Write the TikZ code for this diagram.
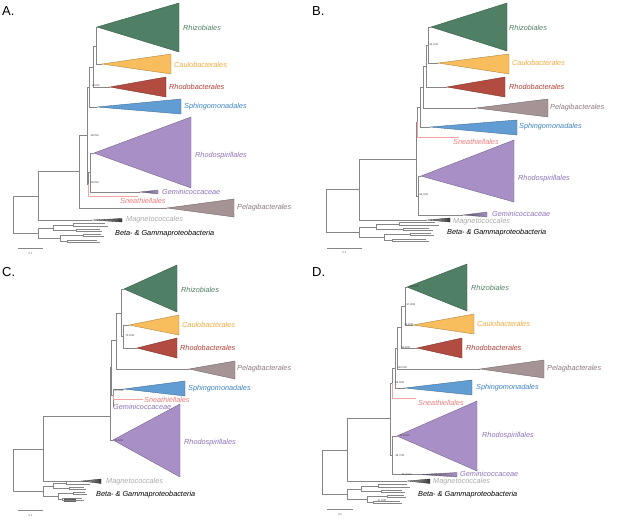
\documentclass[tikz,border=0pt]{standalone}
\usepackage{fontspec}
\setmainfont{Liberation Sans}
\usetikzlibrary{positioning}

\definecolor{brgray}{HTML}{868686}
\definecolor{rhifill}{HTML}{4F7F64}
\definecolor{caufill}{HTML}{F8BE5E}
\definecolor{cautext}{HTML}{F2A93B}
\definecolor{rbafill}{HTML}{B24B40}
\definecolor{rbatext}{HTML}{B23B30}
\definecolor{sphfill}{HTML}{619DD2}
\definecolor{sphtext}{HTML}{3C82C4}
\definecolor{rspfill}{HTML}{A890C6}
\definecolor{rsptext}{HTML}{8C70B8}
\definecolor{pelfill}{HTML}{A69396}
\definecolor{peltext}{HTML}{8E777C}
\definecolor{snepink}{HTML}{F4A3A3}
\definecolor{snetext}{HTML}{EE7A7A}
\definecolor{magtext}{HTML}{A9A9A9}
\definecolor{magfill}{HTML}{3C3C3C}

% collapsed clade: apex, right x, top y, bottom y, colour
\newcommand{\clade}[5]{\filldraw[fill=#5, draw=#5!70!black, line width=0.4pt] (#1) -- (#2,#3) -- (#2,#4) -- cycle;}
% thin clade with a shaded fill: apex, right x, top y, bottom y, left colour, right colour
\newcommand{\thinclade}[6]{\shade[left color=#5, right color=#6] (#1) -- (#2,#3) -- (#2,#4) -- cycle;
  \draw[#6!60!black, line width=0.3pt] (#1) -- (#2,#3) -- (#2,#4) -- cycle;}

% outgroup subtree: name, x, y, length
\newcommand{\bgtree}[4]{%
  \coordinate (#1) at (#2,#3);
  \begin{scope}[shift={(#1)}, xscale=#4]
    \coordinate (#1u) at (0.22,-5);
    \coordinate (#1l) at (0.32,5);
    \coordinate (#1u1) at (0.5,-8);
    \coordinate (#1u2) at (0.55,-3);
    \coordinate (#1l1) at (0.64,2);
    \coordinate (#1l2) at (0.42,8);
    \coordinate (#1a) at (0.95,-10);
    \coordinate (#1b) at (1,-7);
    \coordinate (#1c) at (0.88,-4);
    \coordinate (#1d) at (0.92,-2);
    \coordinate (#1e) at (0.9,1);
    \coordinate (#1f) at (0.94,3);
    \coordinate (#1g) at (0.84,7);
    \coordinate (#1h) at (0.88,9.5);
  \end{scope}
  \draw[br] (#1) |- (#1u) (#1) |- (#1l) (#1u) |- (#1u1) (#1u) |- (#1u2) (#1l) |- (#1l1) (#1l) |- (#1l2);
  \draw[br] (#1u1) |- (#1a) (#1u1) |- (#1b) (#1u2) |- (#1c) (#1u2) |- (#1d)
    (#1l1) |- (#1e) (#1l1) |- (#1f) (#1l2) |- (#1g) (#1l2) |- (#1h);
}

\begin{document}
\begin{tikzpicture}[x=1pt, y=-1pt,
    br/.style={draw=brgray, line width=0.55pt},
    sn/.style={draw=snepink, line width=0.6pt},
    lbl/.style={anchor=west, inner sep=0pt, font=\fontsize{7.3}{8}\selectfont\itshape},
    bs/.style={anchor=west, inner sep=0.3pt, font=\fontsize{2.6}{3}\selectfont, text=black!75},
    panel/.style={anchor=west, inner sep=0pt, font=\fontsize{13}{13}\selectfont}]
    \useasboundingbox (0,0) rectangle (617,524);

    % ---------------- A ----------------
    \node[panel] (pA) at (2,11) {A.};
    \coordinate (a0) at (13,214);
    \coordinate (a1) at (38,196);
    \coordinate (a2) at (79,171);
    \coordinate (a3) at (87,135);
    \coordinate (a4) at (89,87);
    \coordinate (a5) at (93,67);
    \coordinate (a6) at (96,46);
    \coordinate (a7) at (88,184);
    \coordinate (a8) at (90,172);
    \coordinate (aRhi) at (97,27);
    \coordinate (aCau) at (102,64);
    \coordinate (aRba) at (110,87);
    \coordinate (aSph) at (97,107);
    \coordinate (aRsp) at (94,153);
    \coordinate (aGem) at (140,192);
    \coordinate (aSne) at (138,196);
    \coordinate (aPel) at (167,208);
    \coordinate (aMag) at (92,220);
    \bgtree{aBG}{38}{233}{70}
    \draw[br] (a0) |- (a1) (a0) |- (aBG) (a1) |- (aMag) (a1) |- (a2);
    \draw[br] (a2) |- (aPel) (a2) |- (a3) (a3) |- (a4) (a3) |- (a7);
    \draw[br] (a4) |- (a5) (a4) |- (aSph) (a5) |- (a6) (a5) |- (aRba);
    \draw[br] (a6) |- (aRhi) (a6) |- (aCau) (a7) |- (a8) (a8) |- (aRsp) (a8) |- (aGem);
    \draw[sn] (a7) |- (aSne);
    \clade{aRhi}{179}{3}{52}{rhifill}
    \clade{aCau}{171}{54}{74}{caufill}
    \clade{aRba}{166}{77}{97}{rbafill}
    \clade{aSph}{181}{99}{114}{sphfill}
    \clade{aRsp}{191}{117}{188}{rspfill}
    \clade{aPel}{234}{199}{217}{pelfill}
    \thinclade{aGem}{158}{190}{194}{black!70}{rspfill}
    \thinclade{aMag}{122}{218.5}{222}{brgray!60}{magfill}
    \node[lbl, text=rhifill] (aRhiL) at (183,28) {Rhizobiales};
    \node[lbl, text=cautext] (aCauL) at (174,65) {Caulobacterales};
    \node[lbl, text=rbatext] (aRbaL) at (169,87) {Rhodobacterales};
    \node[lbl, text=sphtext] (aSphL) at (184,107) {Sphingomonadales};
    \node[lbl, text=rsptext] (aRspL) at (195,156) {Rhodospirillales};
    \node[lbl, text=rsptext] (aGemL) at (162,192) {Geminicoccaceae};
    \node[lbl, text=snetext] (aSneL) at (120,201) {Sneathiellales};
    \node[lbl, text=peltext] (aPelL) at (237,208) {Pelagibacterales};
    \node[lbl, text=magtext] (aMagL) at (126,220) {Magnetococcales};
    \node[lbl] (aBGL) at (115,234) {Beta- \& Gammaproteobacteria};
    \node[bs] (aS1) at (91,86) {100/93};
    \node[bs] (aS2) at (90,136) {100/99};
    \node[bs] (aS3) at (90,183) {100/99};
    \draw[br] (18,248) -- (43,248);
    \node[bs, anchor=center] (aSc) at (30.5,254) {0.1};

    % ---------------- B ----------------
    \node[panel] (pB) at (312,11) {B.};
    \coordinate (b0) at (326,210);
    \coordinate (b1) at (359,189);
    \coordinate (b2) at (416,159);
    \coordinate (b3) at (417,122);
    \coordinate (b4) at (420,107);
    \coordinate (b5) at (423,87);
    \coordinate (b6) at (426,66);
    \coordinate (b7) at (428,45);
    \coordinate (b9) at (418,196);
    \coordinate (bRhi) at (431,27);
    \coordinate (bCau) at (438,63);
    \coordinate (bRba) at (447,87);
    \coordinate (bPel) at (476,108);
    \coordinate (bSph) at (430,127);
    \coordinate (bSne) at (459,137);
    \coordinate (bRsp) at (421,176);
    \coordinate (bGem) at (463,215);
    \coordinate (bMag) at (427,220);
    \bgtree{bBG}{359}{232}{80}
    \draw[br] (b0) |- (b1) (b0) |- (bBG) (b1) |- (b2) (b1) |- (bMag);
    \draw[br] (b2) |- (b3) (b2) |- (b9) (b3) |- (b4) (b4) |- (b5) (b4) |- (bSph);
    \draw[br] (b5) |- (b6) (b5) |- (bPel) (b6) |- (b7) (b6) |- (bRba);
    \draw[br] (b7) |- (bRhi) (b7) |- (bCau) (b9) |- (bRsp) (b9) |- (bGem);
    \draw[sn] (b3) |- (bSne);
    \clade{bRhi}{507}{3}{51}{rhifill}
    \clade{bCau}{509}{54}{74}{caufill}
    \clade{bRba}{505}{77}{97}{rbafill}
    \clade{bPel}{548}{99}{117}{pelfill}
    \clade{bSph}{517}{120}{135}{sphfill}
    \clade{bRsp}{514}{140}{202}{rspfill}
    \thinclade{bGem}{487}{212}{217}{black!70}{rspfill}
    \thinclade{bMag}{450}{218}{222}{brgray!60}{magfill}
    \node[lbl, text=rhifill] (bRhiL) at (509,28) {Rhizobiales};
    \node[lbl, text=cautext] (bCauL) at (512,63) {Caulobacterales};
    \node[lbl, text=rbatext] (bRbaL) at (509,87) {Rhodobacterales};
    \node[lbl, text=peltext] (bPelL) at (550,108) {Pelagibacterales};
    \node[lbl, text=sphtext] (bSphL) at (519,127) {Sphingomonadales};
    \node[lbl, text=snetext] (bSneL) at (453,142) {Sneathiellales};
    \node[lbl, text=rsptext] (bRspL) at (518,179) {Rhodospirillales};
    \node[lbl, text=rsptext] (bGemL) at (492,214) {Geminicoccaceae};
    \node[lbl, text=magtext] (bMagL) at (453,221.5) {Magnetococcales};
    \node[lbl] (bBGL) at (447,233) {Beta- \& Gammaproteobacteria};
    \node[bs] (bS1) at (429,45) {93.2/94};
    \node[bs] (bS2) at (419,195) {96.4/92};
    \draw[br] (327,248) -- (362,248);
    \node[bs, anchor=center] (bSc) at (344.5,253) {0.2};

    % ---------------- C ----------------
    \node[panel] (pC) at (2,272) {C.};
    \coordinate (c0) at (13,470);
    \coordinate (c1) at (43,449);
    \coordinate (c2) at (110,416);
    \coordinate (c3) at (111,367);
    \coordinate (c4) at (116,340);
    \coordinate (c5) at (121,313);
    \coordinate (c6) at (123,336);
    \coordinate (c7) at (113,395);
    \coordinate (cRhi) at (124,289);
    \coordinate (cCau) at (129,325);
    \coordinate (cRba) at (137,348);
    \coordinate (cPel) at (189,369);
    \coordinate (cSph) at (124,389);
    \coordinate (cSne) at (143,399);
    \coordinate (cGem) at (114,406);
    \coordinate (cRsp) at (113,440);
    \coordinate (cMag) at (82,481);
    \bgtree{cBG}{43}{491}{47}
    \draw[br] (c0) |- (c1) (c0) |- (cBG) (c1) |- (c2) (c1) |- (cMag);
    \draw[br] (c2) |- (c3) (c2) |- (cRsp) (c3) |- (c4) (c3) |- (c7);
    \draw[br] (c4) |- (c5) (c4) |- (cPel) (c5) |- (cRhi) (c5) |- (c6);
    \draw[br] (c6) |- (cCau) (c6) |- (cRba) (c7) |- (cSph) (c7) |- (cGem);
    \draw[sn] (c7) |- (cSne);
    \clade{cRhi}{177}{265}{312}{rhifill}
    \clade{cCau}{179}{315}{335}{caufill}
    \clade{cRba}{177}{338}{358}{rbafill}
    \clade{cPel}{235}{361}{379}{pelfill}
    \clade{cSph}{185}{381}{396}{sphfill}
    \clade{cRsp}{180}{404}{477}{rspfill}
    \thinclade{cMag}{101}{479}{483.5}{brgray!60}{magfill}
    \node[lbl, text=rhifill] (cRhiL) at (181,290) {Rhizobiales};
    \node[lbl, text=cautext] (cCauL) at (182,325) {Caulobacterales};
    \node[lbl, text=rbatext] (cRbaL) at (180,348) {Rhodobacterales};
    \node[lbl, text=peltext] (cPelL) at (237,369) {Pelagibacterales};
    \node[lbl, text=sphtext] (cSphL) at (188,389) {Sphingomonadales};
    \node[lbl, text=snetext] (cSneL) at (144,400) {Sneathiellales};
    \node[lbl, text=rsptext] (cGemL) at (113,407) {Geminicoccaceae};
    \node[lbl, text=rsptext] (cRspL) at (184,443) {Rhodospirillales};
    \node[lbl, text=magtext] (cMagL) at (106,482) {Magnetococcales};
    \node[lbl] (cBGL) at (96,495) {Beta- \& Gammaproteobacteria};
    \node[bs] (cS1) at (125,336) {70.2/99};
    \node[bs] (cS2) at (114,391) {91.2/99};
    \node[bs] (cS3) at (114,441) {79.5/99};
    \node[bs, draw=black!60, line width=0.2pt] (cS4) at (64,500) {98.7/100};
    \draw[br] (18,510) -- (43,510);
    \node[bs, anchor=center] (cSc) at (30.5,516) {0.1};

    % ---------------- D ----------------
    \node[panel] (pD) at (312,272) {D.};
    \coordinate (d0) at (322,472);
    \coordinate (d1) at (347,450);
    \coordinate (d2) at (390,418);
    \coordinate (d3) at (392,383);
    \coordinate (d4) at (395,368);
    \coordinate (d5) at (397,348);
    \coordinate (d6) at (401,327);
    \coordinate (d7) at (405,306);
    \coordinate (d9) at (392,455);
    \coordinate (dRhi) at (407,287);
    \coordinate (dCau) at (413,325);
    \coordinate (dRba) at (417,348);
    \coordinate (dPel) at (480,369);
    \coordinate (dSph) at (405,388);
    \coordinate (dSne) at (416,398);
    \coordinate (dRsp) at (397,436);
    \coordinate (dGem) at (420,474.5);
    \coordinate (dMag) at (407,481);
    \bgtree{dBG}{347}{494}{63}
    \draw[br] (d0) |- (d1) (d0) |- (dBG) (d1) |- (d2) (d1) |- (dMag);
    \draw[br] (d2) |- (d3) (d2) |- (d9) (d3) |- (d4) (d4) |- (d5) (d4) |- (dSph);
    \draw[br] (d5) |- (d6) (d5) |- (dPel) (d6) |- (d7) (d6) |- (dRba);
    \draw[br] (d7) |- (dRhi) (d7) |- (dCau) (d9) |- (dRsp) (d9) |- (dGem);
    \draw[sn] (d3) |- (dSne);
    \clade{dRhi}{467}{264}{311}{rhifill}
    \clade{dCau}{474}{314}{334}{caufill}
    \clade{dRba}{462}{338}{358}{rbafill}
    \clade{dPel}{544}{360}{378}{pelfill}
    \clade{dSph}{472}{380}{395}{sphfill}
    \clade{dRsp}{477}{401}{471}{rspfill}
    \thinclade{dGem}{457}{472.5}{477}{black!70}{rspfill}
    \thinclade{dMag}{430}{479}{483.5}{brgray!60}{magfill}
    \node[lbl, text=rhifill] (dRhiL) at (471,288) {Rhizobiales};
    \node[lbl, text=cautext] (dCauL) at (477,324) {Caulobacterales};
    \node[lbl, text=rbatext] (dRbaL) at (466,348) {Rhodobacterales};
    \node[lbl, text=peltext] (dPelL) at (547,369) {Pelagibacterales};
    \node[lbl, text=sphtext] (dSphL) at (476,388) {Sphingomonadales};
    \node[lbl, text=snetext] (dSneL) at (418,403) {Sneathiellales};
    \node[lbl, text=rsptext] (dRspL) at (482,436) {Rhodospirillales};
    \node[lbl, text=rsptext] (dGemL) at (460,474) {Geminicoccaceae};
    \node[lbl, text=magtext] (dMagL) at (433,482) {Magnetococcales};
    \node[lbl] (dBGL) at (418,495) {Beta- \& Gammaproteobacteria};
    \node[bs] (dS1) at (409,287) {100/100};
    \node[bs] (dS2) at (406,305) {97.8/99};
    \node[bs] (dS3) at (404,325) {99.8/99};
    \node[bs] (dS4) at (401,348) {99.8/92};
    \node[bs] (dS5) at (397,368) {100/100};
    \node[bs] (dS6) at (395,383) {99.9/99};
    \node[bs] (dS7) at (399,436) {99.9/100};
    \node[bs] (dS8) at (395,456) {98.7/99};
    \node[bs] (dS9) at (401,474.5) {75.4/100};
    \node[bs] (dS10) at (377,501) {97.8/99};
    \draw[br] (327,509) -- (353,509);
    \node[bs, anchor=center] (dSc) at (340,515) {0.2};
\end{tikzpicture}
\end{document}
